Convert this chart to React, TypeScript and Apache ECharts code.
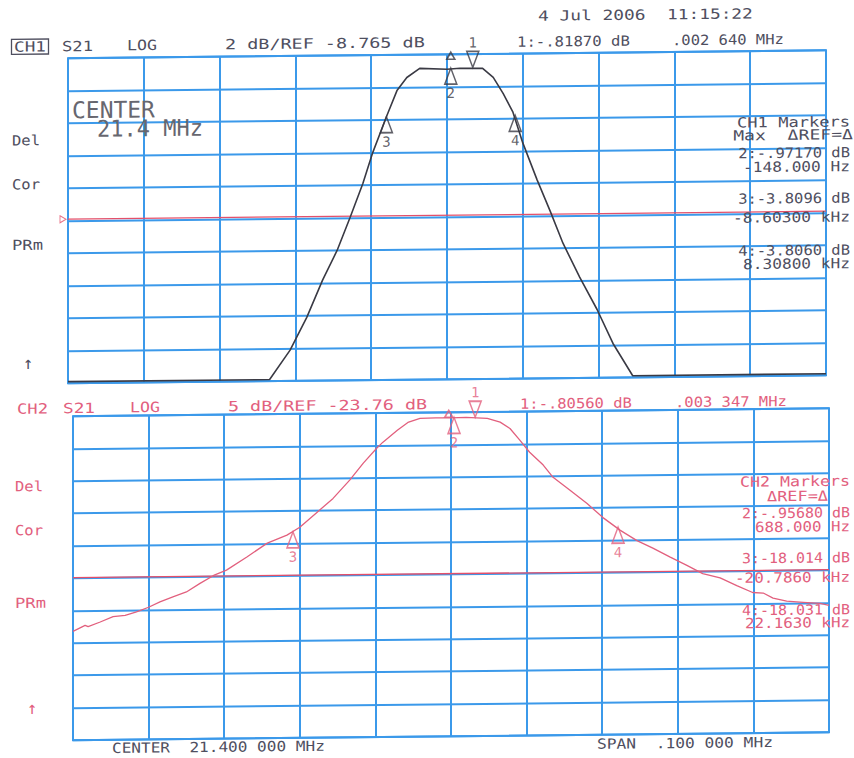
import React, { useEffect, useRef } from "react";
import * as echarts from "echarts";

// Frequency axis: offset from the 21.4 MHz centre, in kHz (span 100 kHz)
const FREQ_MIN = -50;
const FREQ_MAX = 50;
const FREQ_STEP = 10;

// Channel scales (dB)
const CH1_MIN = -20;
const CH1_MAX = 0;
const CH1_STEP = 2;
const CH2_MIN = -50;
const CH2_MAX = 0;
const CH2_STEP = 5;

// CH1 trace (S21, 2 dB/div)
const CH1_FREQ = [-50, -23.4, -20.7, -18.5, -16.4, -14.5, -12.8, -11.1, -9.8, -7.9, -6.6, -5.3, -3.6, 0.0, 1.7, 4.7, 6.1, 7.4, 8.7, 10.0, 11.9, 13.6, 15.3, 17.5, 19.8, 21.9, 24.5, 50];
const CH1_DB = [-19.9, -19.9, -18.1, -16.1, -13.8, -12.0, -10.0, -7.9, -6.0, -3.7, -2.2, -1.4, -0.85, -0.92, -0.87, -0.89, -1.45, -2.44, -3.6, -5.5, -7.8, -9.7, -11.7, -13.8, -15.8, -17.9, -19.9, -19.9];

// CH2 trace (S21, 5 dB/div)
const CH2_FREQ = [-50, -48.4, -48.0, -46.4, -44.7, -43.1, -41.6, -40.0, -38.5, -36.7, -35.0, -33.2, -31.4, -29.7, -27.0, -24.3, -21.7, -20.0, -17.7, -15.6, -13.4, -11.6, -9.8, -9.0, -7.1, -5.7, -4.1, -2.0, 0.0, 2.0, 4.8, 6.5, 7.8, 9.1, 10.4, 12.2, 13.5, 15.7, 18.0, 20.1, 22.4, 24.6, 26.7, 29.0, 31.2, 33.3, 35.6, 37.8, 39.9, 41.3, 42.6, 44.4, 46.6, 48.8, 50];
const CH2_DB = [-33.2, -32.3, -32.5, -31.8, -31.0, -30.8, -30.3, -29.6, -28.8, -28.0, -27.3, -26.0, -24.8, -24.0, -22.0, -19.9, -18.7, -17.5, -15.2, -13.1, -10.3, -7.7, -5.4, -4.5, -2.7, -1.5, -0.9, -0.85, -0.85, -0.8, -1.0, -1.6, -2.6, -4.4, -6.3, -8.3, -10.2, -12.2, -14.3, -16.5, -18.5, -20.1, -21.3, -22.7, -24.0, -25.3, -26.0, -27.2, -28.3, -28.4, -29.2, -29.7, -29.9, -30.1, -30.4];

// Markers (1 = active ▽, 2..4 = Δ markers)
const MARKER_NAMES = ["1", "2", "3", "4"];
const CH1_MARKER_FREQ = [3.4, 0.5, -8.0, 9.0];
const CH1_MARKER_DB = [-0.82, -0.85, -3.8, -3.8];
const CH2_MARKER_FREQ = [3.2, 0.4, -20.9, 22.1];
const CH2_MARKER_DB = [-0.8, -0.8, -18.2, -18.0];
const CH1_DELTA_REF_FREQ = 0.5;
const CH2_DELTA_REF_FREQ = -0.3;

// Reference lines
const CH1_REF_DB = -9.9;
const CH2_REF_DB = -24.9;

// Texts
const DATE_TEXT = "4 Jul 2006  11:15:22";
const CH1_HEADER = ["CH1", "S21", "LOG", "2 dB/REF -8.765 dB", "1:-.81870 dB", ".002 640 MHz"];
const CH2_HEADER = ["CH2", "S21", "LOG", "5 dB/REF -23.76 dB", "1:-.80560 dB", ".003 347 MHz"];
const SIDE_LABELS = ["Del", "Cor", "PRm", "↑"];
const CENTER_NOTE = ["CENTER", "21.4 MHz"];
const CH1_PANEL = ["CH1 Markers", "Max  ΔREF=Δ", "2:-.97170 dB", "-148.000 Hz", "3:-3.8096 dB", "-8.60300 kHz", "4:-3.8060 dB", "8.30800 kHz"];
const CH2_PANEL = ["CH2 Markers", "ΔREF=Δ", "2:-.95680 dB", "688.000 Hz", "3:-18.014 dB", "-20.7860 kHz", "4:-18.031 dB", "22.1630 kHz"];
const FOOTER = ["CENTER  21.400 000 MHz", "SPAN  .100 000 MHz"];

const MONO = '"DejaVu Sans Mono", monospace';
const GRAY = "#4f4f5f";
const PINK = "#e2607e";
const BLUE = "#3b99ea";
const TRACE1 = "#3a3a44";
const REDLINE = "#e4506a";
const DOWN_TRI = "path://M0,0L12,0L6,16Z";
const RIGHT_TRI = "path://M0,0L10,5L0,10Z";

function txt(text: string, x: number, y: number, width: number | null, color: string, align: string = "left", fontSize: number = 14) {
  const n = Array.from(text).length;
  const adv = fontSize * 0.602;
  const sx = width ? width / (n * adv) : 1;
  return {
    type: "text",
    x,
    y,
    scaleX: sx,
    silent: true,
    z: 10,
    style: {
      text,
      fill: color,
      fontFamily: MONO,
      fontSize,
      textAlign: align,
      textVerticalAlign: "middle",
    },
  };
}

function markerData(freqs: number[], dbs: number[], deltaRefFreq: number, color: string) {
  const items: any[] = MARKER_NAMES.map((name, i) => ({
    value: [freqs[i], dbs[i]],
    symbol: i === 0 ? DOWN_TRI : "triangle",
    symbolSize: [12, 16],
    symbolOffset: i === 0 ? [0, -8] : [0, 8],
    label: {
      show: true,
      formatter: name,
      position: i === 0 ? "top" : "bottom",
      distance: 1,
      color,
      fontFamily: MONO,
      fontSize: 14,
    },
  }));
  items.push({
    value: [deltaRefFreq, 0],
    symbol: "triangle",
    symbolSize: [8, 7],
    symbolOffset: [0, 1.5],
    label: { show: false },
  });
  return items;
}

export default function App() {
  const ref = useRef<HTMLDivElement>(null);

  useEffect(() => {
    if (!ref.current) return;
    const chart = echarts.init(ref.current, undefined, { renderer: "svg" });

    const splitLine = { show: true, lineStyle: { color: BLUE, width: 2 } };
    const hiddenAxis = {
      axisLine: { show: false },
      axisTick: { show: false },
      axisLabel: { show: false },
      splitLine,
    };

    const graphics: any[] = [];
    // date
    graphics.push(txt(DATE_TEXT, 538, 21.5, 215, GRAY));
    // CH1 header
    const h1x = [14, 62, 127, 225, 517, 672];
    const h1w = [32, 31, 30, 200, 113, 112];
    CH1_HEADER.forEach((t, i) => graphics.push(txt(t, h1x[i], 47, h1w[i], GRAY)));
    graphics.push({
      type: "rect",
      silent: true,
      z: 10,
      shape: { x: 11.5, y: 39.5, width: 37, height: 15 },
      style: { fill: "none", stroke: GRAY, lineWidth: 1.3 },
    });
    // CH2 header
    const h2x = [17, 63, 130, 228, 520, 675];
    const h2w = [31, 32, 30, 199, 112, 112];
    CH2_HEADER.forEach((t, i) => graphics.push(txt(t, h2x[i], 409, h2w[i], PINK)));
    // side labels
    const s1y = [140.3, 184.3, 245.3, 363.3];
    const s2y = [486.3, 530.3, 603.3, 708.3];
    const sw = [28, 28, 31, null];
    SIDE_LABELS.forEach((t, i) => {
      const arrow = i === 3;
      graphics.push(txt(t, arrow ? 23 : 12, s1y[i], sw[i], GRAY, "left", arrow ? 17 : 14));
      graphics.push(txt(t, arrow ? 27 : 15, s2y[i], sw[i], PINK, "left", arrow ? 17 : 14));
    });
    // centre note in CH1
    graphics.push(txt(CENTER_NOTE[0], 72, 111, 83, "#67676f", "left", 23));
    graphics.push(txt(CENTER_NOTE[1], 97, 129.5, 106, "#67676f", "left", 23));
    // marker panels
    const p1y = [130.8, 143.3, 160.8, 175.3, 206.3, 225.8, 258.3, 272.3];
    const p1w = [113, 120, 112, 107, 112, 117, 112, 107];
    const p1r = [850, 853, 850, 850, 850, 850, 850, 850];
    CH1_PANEL.forEach((t, i) => graphics.push(txt(t, p1r[i], p1y[i], p1w[i], GRAY, "right")));
    const p2y = [490, 504.8, 521.3, 535.3, 566.3, 586, 618.3, 631.3];
    const p2w = [110, 61, 108, 95, 108, 115, 108, 105];
    const p2r = [850, 828, 850, 850, 850, 850, 850, 850];
    CH2_PANEL.forEach((t, i) => graphics.push(txt(t, p2r[i], p2y[i], p2w[i], PINK, "right")));
    // footer
    graphics.push(txt(FOOTER[0], 112, 749.5, 213, GRAY));
    graphics.push(txt(FOOTER[1], 597, 750.5, 176, GRAY));

    const option: any = {
      animation: false,
      backgroundColor: "#ffffff",
      grid: [
        { left: 68, top: 59, width: 758, height: 325, show: true, borderColor: BLUE, borderWidth: 2, backgroundColor: "transparent" },
        { left: 73, top: 417, width: 756, height: 324, show: true, borderColor: BLUE, borderWidth: 2, backgroundColor: "transparent" },
      ],
      xAxis: [
        { type: "value", gridIndex: 0, min: FREQ_MIN, max: FREQ_MAX, interval: FREQ_STEP, ...hiddenAxis },
        { type: "value", gridIndex: 1, min: FREQ_MIN, max: FREQ_MAX, interval: FREQ_STEP, ...hiddenAxis },
      ],
      yAxis: [
        { type: "value", gridIndex: 0, min: CH1_MIN, max: CH1_MAX, interval: CH1_STEP, ...hiddenAxis },
        { type: "value", gridIndex: 1, min: CH2_MIN, max: CH2_MAX, interval: CH2_STEP, ...hiddenAxis },
      ],
      graphic: graphics,
      series: [
        {
          type: "line",
          xAxisIndex: 0,
          yAxisIndex: 0,
          data: [[FREQ_MIN, CH1_REF_DB], [FREQ_MAX, CH1_REF_DB]],
          showSymbol: false,
          lineStyle: { color: REDLINE, width: 1.3 },
          z: 2,
        },
        {
          type: "scatter",
          xAxisIndex: 0,
          yAxisIndex: 0,
          data: [[FREQ_MIN, CH1_REF_DB]],
          symbol: RIGHT_TRI,
          symbolSize: [6, 7],
          symbolOffset: [-5, 0],
          itemStyle: { color: "rgba(0,0,0,0)", borderColor: REDLINE, borderWidth: 1 },
          clip: false,
          z: 3,
        },
        {
          type: "line",
          xAxisIndex: 0,
          yAxisIndex: 0,
          data: CH1_FREQ.map((f, i) => [f, CH1_DB[i]]),
          showSymbol: false,
          lineStyle: { color: TRACE1, width: 1.6 },
          z: 4,
        },
        {
          type: "scatter",
          xAxisIndex: 0,
          yAxisIndex: 0,
          data: markerData(CH1_MARKER_FREQ, CH1_MARKER_DB, CH1_DELTA_REF_FREQ, TRACE1),
          itemStyle: { color: "rgba(0,0,0,0)", borderColor: TRACE1, borderWidth: 1.6 },
          clip: false,
          z: 5,
        },
        {
          type: "line",
          xAxisIndex: 1,
          yAxisIndex: 1,
          data: [[FREQ_MIN, CH2_REF_DB], [FREQ_MAX, CH2_REF_DB]],
          showSymbol: false,
          lineStyle: { color: REDLINE, width: 1.3 },
          z: 2,
        },
        {
          type: "line",
          xAxisIndex: 1,
          yAxisIndex: 1,
          data: CH2_FREQ.map((f, i) => [f, CH2_DB[i]]),
          showSymbol: false,
          lineStyle: { color: PINK, width: 1.3 },
          z: 4,
        },
        {
          type: "scatter",
          xAxisIndex: 1,
          yAxisIndex: 1,
          data: markerData(CH2_MARKER_FREQ, CH2_MARKER_DB, CH2_DELTA_REF_FREQ, PINK),
          itemStyle: { color: "rgba(0,0,0,0)", borderColor: PINK, borderWidth: 1.6 },
          clip: false,
          z: 5,
        },
      ],
    };

    chart.setOption(option);
    return () => chart.dispose();
  }, []);

  return (
    <div
      ref={ref}
      style={{
        position: "absolute",
        left: 0,
        top: 0,
        width: 854,
        height: 758,
        background: "#ffffff",
        transform: "skewY(-0.6deg)",
        transformOrigin: "0 0",
      }}
    />
  );
}
